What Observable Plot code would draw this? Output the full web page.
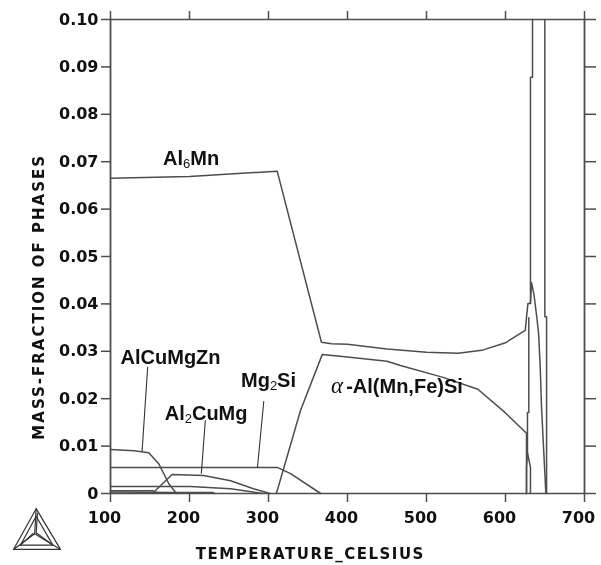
<!DOCTYPE html>
<html>
<head>
<meta charset="utf-8">
<script src="https://cdn.jsdelivr.net/npm/d3@7"></script>
<script src="https://cdn.jsdelivr.net/npm/@observablehq/plot@0.6"></script>
<style>
html,body{margin:0;padding:0;background:#fff}
svg{display:block;filter:blur(0.35px)}
</style>
</head>
<body>
<div id="chart"></div>
<script>
const xTicks = [100,200,300,400,500,600,700];
const yTicks = [0,0.01,0.02,0.03,0.04,0.05,0.06,0.07,0.08,0.09,0.10];

const al6mn = [[100,.0665],[200,.0669],[311,.0680],[367,.0319],[380,.0316],[400,.0315],[450,.0305],[500,.0298],[540,.0296],[570,.0302],[600,.0318],[625,.0344],[626.6,.0372],[628.4,.0401],[631.6,.0401],[631.6,.0878],[634.2,.0878],[634.2,.1]];
const alpha = [[310,0],[340.5,.0175],[368,.0293],[400,.0288],[450,.0279],[467,.0270],[521,.0245],[565,.0220],[600,.0170],[626.6,.0127],[626.6,0]];
const liquidLeft = [[626.6,0],[626.6,.0055],[627.8,.0086],[627.8,.0171],[629.5,.0171],[629.5,.0371]];
const peakLeft = [[631.6,0],[631.6,.0055],[627.8,.0086]];
const peakRight = [[631.6,.0401],[632.9,.0445],[636,.0420],[640.1,.0365],[642,.0335],[644,.0264],[645.5,.0186],[648.5,.0086],[650.6,.0017],[651,0]];
const rightEdge = [[649.8,.1],[649.8,.0373],[652,.0373],[652,0]];
const alcumgzn = [[100,.0093],[130,.0090],[148.5,.0086],[161,.0063],[174,.0020],[183.5,0]];
const mg2si = [[100,.0055],[311,.0055],[328,.0042],[366,0]];
const al2cumg = [[153,0],[178,.0040],[218,.0038],[252,.0027],[281,.0010],[302,0]];
const minorA = [[100,.0015],[201,.0015],[252,.0010],[293,0]];
const minorB = [[100,.0006],[153,.0006],[160,0]];
const minorC = [[100,.0003],[183,.0002],[230,.0002],[232,0]];
const curves = [al6mn,alpha,liquidLeft,peakLeft,peakRight,rightEdge,alcumgzn,mg2si,al2cumg,minorA,minorB,minorC];

const leaderAlCuMgZn = [[147,.0266],[140,.0089]];
const leaderAl2CuMg = [[220,.0154],[215,.0043]];
const leaderMg2Si = [[294,.0194],[286,.0055]];
const leaders = [leaderAlCuMgZn,leaderAl2CuMg,leaderMg2Si];

const phaseNames = ["Al_6Mn","AlCuMgZn","Al_2CuMg","Mg_2Si","α-Al(Mn,Fe)Si"];
const phaseX = [202,176,221,300,462.6];
const phaseY = [.0707,.0287,.0168,.0238,.0225];

const logoOuter = [[5.9,-.0032],[-22.8,-.0118],[36.7,-.0118],[5.9,-.0032]];
const logoInner = [[5.9,-.0048],[-14,-.0109],[27,-.0109],[5.9,-.0048]];
const logoSpokeA = [[5.9,-.0032],[4,-.0085],[-22.8,-.0118]];
const logoSpokeB = [[4,-.0085],[36.7,-.0118]];
const logoSpokeC = [[7.5,-.0042],[6,-.0083],[27,-.0109]];
const logoSpokeD = [[2,-.0084],[-14,-.0109]];
const logoParts = [logoOuter,logoInner,logoSpokeA,logoSpokeB,logoSpokeC,logoSpokeD];

const xTitle = "TEMPERATURE_CELSIUS";
const yTitle = "MASS-FRACTION OF PHASES";

const ink = "#4d4d4d";
const tickFont = {fontFamily:"'DejaVu Sans'",fontWeight:"bold",fontSize:16,fill:"#111"};
const px = d => d[0], py = d => d[1];

const plot = Plot.plot({
  width:601, height:565,
  marginLeft:110, marginRight:17, marginTop:19, marginBottom:72,
  style:{background:"#fff",overflow:"visible"},
  x:{domain:[100,700]},
  y:{domain:[0,0.1]},
  marks:[
    Plot.axisX({ticks:xTicks,anchor:"bottom",tickSize:9,label:null,tickFormat:()=>"",stroke:ink,strokeWidth:1.5}),
    Plot.axisX({ticks:xTicks,anchor:"bottom",tickSize:0,tickPadding:18,label:null,tickFormat:d=>String(d),...tickFont,dx:-6}),
    Plot.axisX({ticks:xTicks,anchor:"top",tickSize:9,label:null,tickFormat:()=>"",stroke:ink,strokeWidth:1.5}),
    Plot.axisY({ticks:yTicks,anchor:"left",tickSize:9,tickPadding:3,label:null,tickFormat:d=>d===0?"0":d.toFixed(2),stroke:ink,strokeWidth:1.5,...tickFont}),
    Plot.axisY({ticks:yTicks,anchor:"right",tickSize:11,label:null,tickFormat:()=>"",stroke:ink,strokeWidth:1.5}),
    Plot.ruleX([100,700],{stroke:ink,strokeWidth:1.8}),
    Plot.ruleY([0,0.1],{stroke:ink,strokeWidth:1.5}),
    ...curves.map(c=>Plot.line(c,{x:px,y:py,stroke:ink,strokeWidth:1.5})),
    ...leaders.map(c=>Plot.line(c,{x:px,y:py,stroke:"#333",strokeWidth:1.1})),
    ...logoParts.map(c=>Plot.line(c,{x:px,y:py,stroke:"#333",strokeWidth:1.2})),
    Plot.text(phaseNames,{x:(d,i)=>phaseX[i],y:(d,i)=>phaseY[i],text:d=>d,fontFamily:"'Liberation Sans'",fontWeight:"bold",fontSize:20,fill:"#111",textAnchor:"middle",className:"phase"}),
    Plot.text([xTitle],{x:[353],y:[-.0127],text:d=>d,fontFamily:"'DejaVu Sans'",fontWeight:"bold",fontSize:15,fill:"#111",className:"ttlx"}),
    Plot.text([yTitle],{x:[10],y:[.0415],text:d=>d,rotate:-90,fontFamily:"'DejaVu Sans'",fontWeight:"bold",fontSize:15,fill:"#111",className:"ttly"})
  ]
});
document.getElementById("chart").appendChild(plot);

d3.select(plot).selectAll(".ttlx text").style("letter-spacing","1.5px");
d3.select(plot).selectAll(".ttly text").style("letter-spacing","2px");
d3.select(plot).selectAll(".phase text").each(function(){
  const raw = this.textContent;
  const el = d3.select(this);
  el.text(null);
  if (raw.startsWith("α")) {
    el.append("tspan").text("α").attr("font-family","'Liberation Serif'").attr("font-style","italic").attr("font-weight","normal").attr("font-size",23);
    el.append("tspan").text(raw.slice(1)).attr("dx","3");
    return;
  }
  const m = raw.match(/^(.*)_(\d)(.*)$/);
  if (!m) { el.text(raw); return; }
  el.append("tspan").text(m[1]);
  el.append("tspan").text(m[2]).attr("font-size",13).attr("font-weight","normal").attr("dy","3");
  el.append("tspan").text(m[3]).attr("dy","-3");
});
</script>
</body>
</html>
